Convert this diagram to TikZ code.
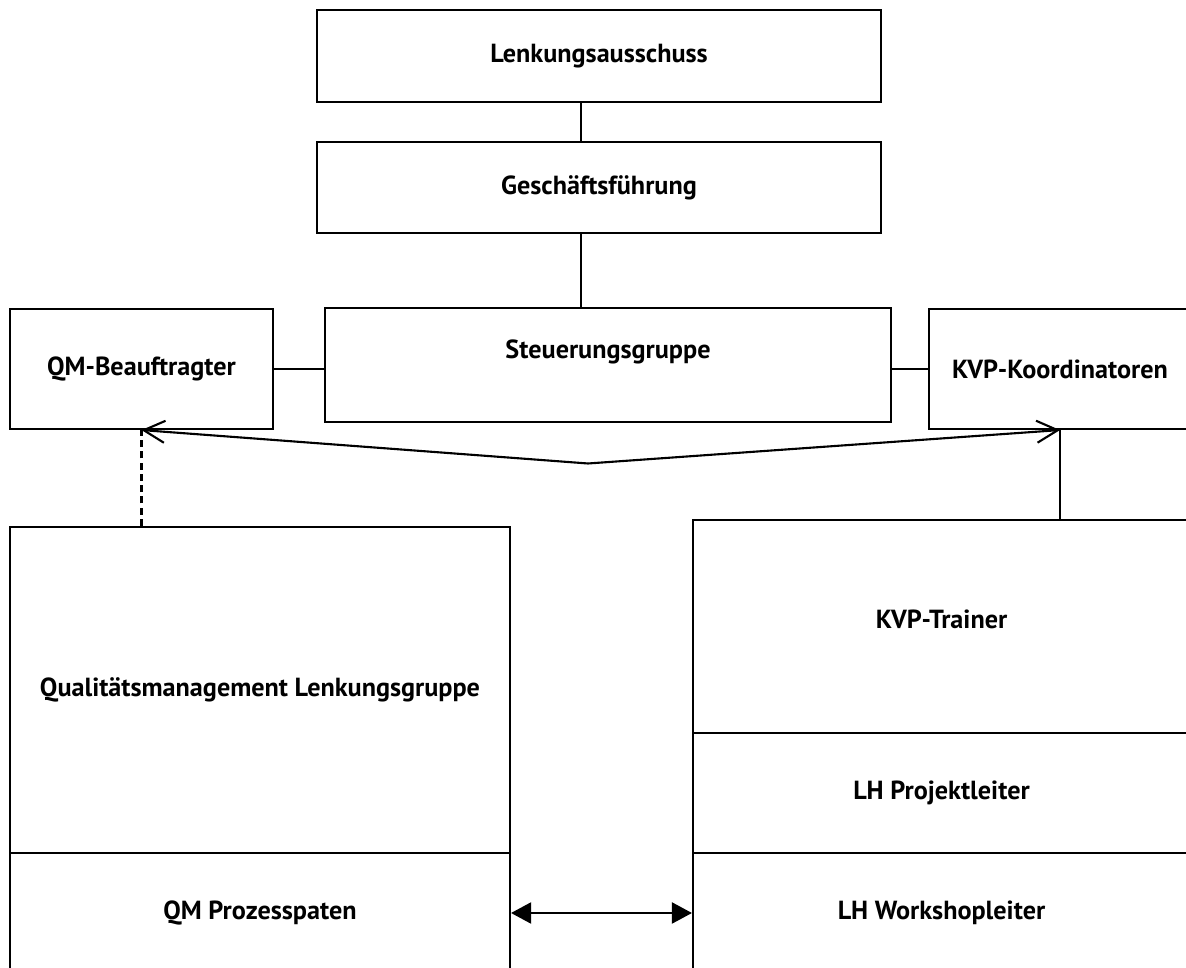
\documentclass[tikz,border=0pt]{standalone}
\usepackage{fontspec}
\setmainfont{PT Sans}
\usetikzlibrary{arrows.meta}
\begin{document}
\begin{tikzpicture}[
  box/.style={draw, line width=0.6pt, rectangle, inner sep=0pt, font=\bfseries\fontsize{7.45}{9}\selectfont},
  conn/.style={line width=0.6pt},
  openarrow/.style={conn, -{Straight Barb[length=0.21cm, width=0.22cm]}},
  dblarrow/.style={conn, {Triangle[length=0.2cm, width=0.21cm]}-{Triangle[length=0.2cm, width=0.21cm]}}
]
\useasboundingbox (0,0) rectangle (11.86,-9.68);
\clip (0,0) rectangle (11.86,-9.68);
\node[box, minimum width=5.64cm, minimum height=0.92cm] (lenk) at (5.99,-0.56) {Lenkungsausschuss};
\node[box, minimum width=5.64cm, minimum height=0.91cm] (gesch) at (5.99,-1.875) {Geschäftsführung};
\node[box, minimum width=5.66cm, minimum height=1.14cm, label={[yshift=0.13cm, font=\bfseries\fontsize{7.45}{9}\selectfont]center:Steuerungsgruppe}] (steu) at (6.08,-3.65) {};
\node[box, minimum width=2.63cm, minimum height=1.2cm] (qmb) at (1.415,-3.69) {QM-Beauftragter};
\node[box, minimum width=2.62cm, minimum height=1.2cm] (kvp) at (10.6,-3.69) {KVP-Koordinatoren};
\node[box, minimum width=5.0cm, minimum height=3.26cm] (qml) at (2.6,-6.9) {Qualitätsmanagement Lenkungsgruppe};
\node[box, minimum width=5.0cm, minimum height=1.2cm] (qmp) at (2.6,-9.13) {QM Prozesspaten};
\node[box, minimum width=4.97cm, minimum height=2.13cm] (kvpt) at (9.415,-6.265) {\raisebox{0.14cm}{KVP-Trainer}};
\node[box, minimum width=4.97cm, minimum height=1.2cm] (lhp) at (9.415,-7.93) {LH Projektleiter};
\node[box, minimum width=4.97cm, minimum height=1.2cm] (lhw) at (9.415,-9.13) {LH Workshopleiter};
\coordinate (apex) at (5.88,-4.635);
\draw[conn] ([xshift=-0.18cm]lenk.south) -- ([xshift=-0.18cm]gesch.north);
\draw[conn] ([xshift=-0.18cm]gesch.south) -- ([xshift=-0.18cm]gesch.south |- steu.north);
\draw[conn] (qmb.east) -- (qmb.east -| steu.west);
\draw[conn] (kvp.west) -- (kvp.west -| steu.east);
\draw[openarrow] (apex) -- (qmb.south);
\draw[openarrow] (apex) -- (kvp.south);
\draw[conn, dash pattern=on 2pt off 1.2pt] (qmb.south |- qml.north) -- (qmb.south);
\draw[conn] (kvp.south |- kvpt.north) -- (kvp.south);
\draw[dblarrow] (qmp.east) -- (lhw.west);
\end{tikzpicture}
\end{document}
